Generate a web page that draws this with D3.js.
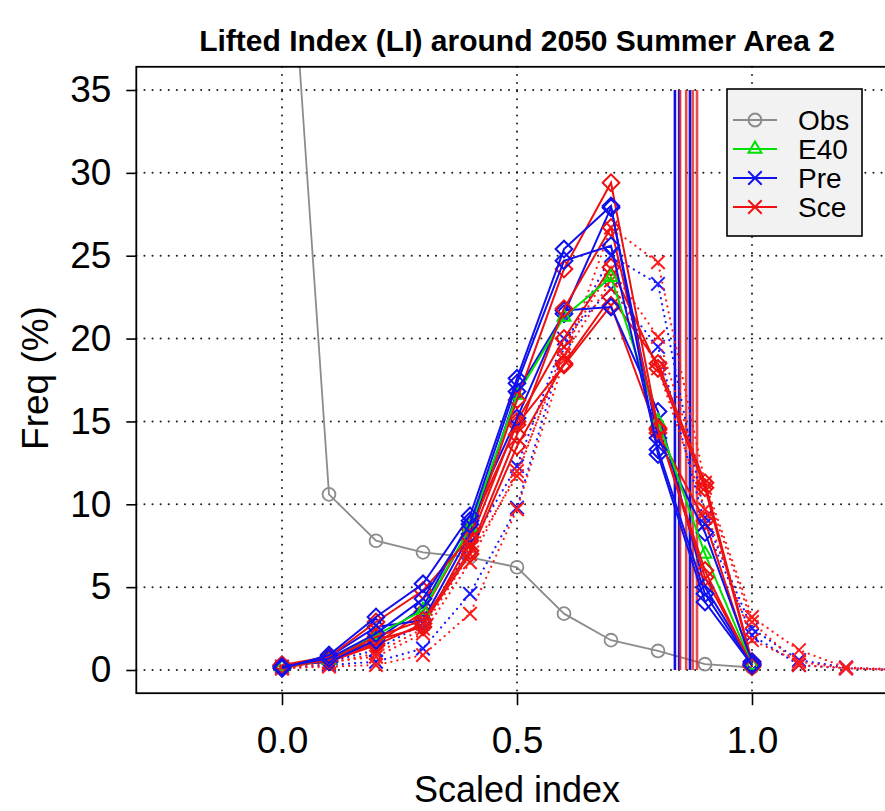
<!DOCTYPE html>
<html>
<head>
<meta charset="utf-8">
<script src="https://cdn.jsdelivr.net/npm/d3@7"></script>
<style>
  body { margin: 0; background: #fff; }
  text { font-family: "Liberation Sans", Arial, sans-serif; }
</style>
</head>
<body>
<svg id="chart" width="885" height="811"></svg>
<script>
// bins of the scaled index
const bins = [0, 0.1, 0.2, 0.3, 0.4, 0.5, 0.6, 0.7, 0.8, 0.9, 1.0];
const binsLong = [0, 0.1, 0.2, 0.3, 0.4, 0.5, 0.6, 0.7, 0.8, 0.9, 1.0, 1.1, 1.2, 1.3];

// observations
const obs = [52, 10.6, 7.8, 7.1, 6.8, 6.2, 3.4, 1.8, 1.15, 0.35, 0.15];

// E40 reanalysis
const e40 = [0.2, 0.6, 2.1, 3.6, 8.6, 16.6, 21.3, 23.7, 15.0, 7.0, 0.3];

// present members (solid, diamonds)
const pre1 = [0.1, 0.9, 3.2, 5.2, 9.3, 17.6, 25.4, 28.0, 13.0, 4.1, 0.3];
const pre2 = [0.2, 0.7, 2.2, 4.3, 8.8, 17.3, 24.7, 25.6, 13.3, 4.6, 0.3];
const pre3 = [0.3, 0.5, 1.8, 3.8, 9.0, 15.2, 21.7, 21.9, 15.6, 5.0, 0.4];
const pre4 = [0.2, 0.8, 2.6, 3.0, 8.2, 16.8, 21.5, 27.9, 14.0, 8.3, 0.5];

// scenario members (solid, diamonds)
const sce1 = [0.3, 0.8, 2.9, 4.8, 8.0, 16.3, 24.2, 29.4, 14.6, 5.6, 0.3];
const sce2 = [0.2, 0.6, 2.0, 3.0, 7.2, 14.2, 21.8, 26.7, 14.5, 6.0, 0.2];
const sce3 = [0.3, 0.5, 1.5, 2.8, 7.0, 13.5, 18.5, 22.5, 18.5, 11.3, 0.5];
const sce4 = [0.2, 0.7, 1.8, 2.6, 7.8, 15.0, 20.0, 24.3, 18.2, 11.0, 0.4];
const sce5 = [0.1, 0.6, 1.6, 3.5, 8.5, 14.8, 18.4, 22.0, 14.3, 9.0, 0.3];

// shifted members (dotted, crosses)
const preDot1 = [0.1, 0.3, 0.5, 1.3, 4.6, 9.8, 19.5, 25.0, 23.3, 9.2, 2.5, 0.6, 0.15, 0.02];
const preDot2 = [0.2, 0.5, 1.2, 2.8, 7.5, 12.3, 20.0, 23.0, 19.5, 8.8, 2.1, 0.3, 0.1, 0.02];
const sceDot1 = [0.1, 0.2, 0.3, 0.9, 3.4, 9.7, 18.7, 26.7, 24.6, 11.3, 3.2, 1.2, 0.15, 0.05];
const sceDot2 = [0.1, 0.4, 1.0, 2.5, 7.0, 11.7, 19.5, 24.2, 20.1, 11.0, 2.9, 0.3, 0.1, 0.02];
const sceDot3 = [0.2, 0.5, 0.8, 2.2, 6.5, 12.0, 19.0, 23.5, 18.2, 9.7, 1.8, 0.5, 0.1, 0.02];

// mean positions (vertical lines)
const meanPre = [0.836, 0.845, 0.868];
const meanSce = [0.847, 0.860, 0.874, 0.883];

const yTicks = [0, 5, 10, 15, 20, 25, 30, 35];
const xTicks = [0.0, 0.5, 1.0];

const svg = d3.select("#chart");

const x = d3.scaleLinear().domain([-0.31, 1.31]).range([136.3, 897.7]);
const y = d3.scaleLinear().domain([-1.4, 36.4]).range([693.2, 66.8]);

const boxL = x(-0.31), boxR = x(1.31), boxT = y(36.4), boxB = y(-1.4);

svg.append("defs").append("clipPath").attr("id", "plotclip")
  .append("rect").attr("x", boxL).attr("y", boxT)
  .attr("width", boxR - boxL).attr("height", boxB - boxT);

// grid
const grid = svg.append("g").attr("stroke", "#222").attr("stroke-width", 2)
  .attr("stroke-dasharray", "0.1 8").attr("stroke-linecap", "round");
grid.selectAll("line.h").data(yTicks).join("line")
  .attr("x1", boxL).attr("x2", boxR).attr("y1", d => y(d)).attr("y2", d => y(d));
grid.selectAll("line.v").data(xTicks).join("line")
  .attr("y1", boxT).attr("y2", boxB).attr("x1", d => x(d)).attr("x2", d => x(d));

const plot = svg.append("g").attr("clip-path", "url(#plotclip)");

const line = d3.line().x(d => x(d[0])).y(d => y(d[1]));

const diamond = d3.symbol(d3.symbolSquare, 140);
const cross = d3.symbol(d3.symbolTimes, 120);
const tri = d3.symbol(d3.symbolTriangle2, 120);
const circ = d3.symbol(d3.symbolCircle, 130);

function series(vals, xs, color, opts) {
  const pts = vals.map((v, i) => [xs[i], v]);
  const g = plot.append("g");
  g.append("path").attr("d", line(pts)).attr("fill", "none")
    .attr("stroke", color).attr("stroke-width", opts.width || 2)
    .attr("stroke-dasharray", opts.dotted ? "0.1 6" : null)
    .attr("stroke-linecap", opts.dotted ? "round" : "butt");
  g.selectAll("path.m").data(pts).join("path")
    .attr("d", opts.marker)
    .attr("transform", d => `translate(${x(d[0])},${y(d[1])})` + (opts.rotate ? " rotate(45)" : ""))
    .attr("fill", "none").attr("stroke", color).attr("stroke-width", opts.mw || 2);
}

// observations
series(obs, bins, "#8c8c8c", { marker: circ, width: 1.8, mw: 1.8 });

// vertical lines for the means
plot.selectAll("line.mp").data(meanPre).join("line")
  .attr("x1", d => x(d)).attr("x2", d => x(d)).attr("y1", y(0)).attr("y2", y(35))
  .attr("stroke", "#1010e0").attr("stroke-width", 2.6);
plot.selectAll("line.ms").data(meanSce).join("line")
  .attr("x1", d => x(d)).attr("x2", d => x(d)).attr("y1", y(0)).attr("y2", y(35))
  .attr("stroke", "#e02020").attr("stroke-width", 2.6).attr("stroke-opacity", 0.8);

// dotted shifted members
[preDot1, preDot2].forEach(s => series(s, binsLong, "#1a1aff", { marker: cross, dotted: true, width: 2.2 }));
[sceDot1, sceDot2, sceDot3].forEach(s => series(s, binsLong, "#ff1a1a", { marker: cross, dotted: true, width: 2.2 }));

// solid members
[sce3, sce4, sce5].forEach(s => series(s, bins, "#ee1111", { marker: diamond, rotate: true }));
[pre3, pre4].forEach(s => series(s, bins, "#1111ee", { marker: diamond, rotate: true }));
series(e40, bins, "#00e000", { marker: tri });
[sce1, sce2].forEach(s => series(s, bins, "#ee1111", { marker: diamond, rotate: true }));
[pre1, pre2].forEach(s => series(s, bins, "#1111ee", { marker: diamond, rotate: true }));

// axes
const yAxis = svg.append("g").attr("transform", `translate(${boxL},0)`)
  .call(d3.axisLeft(y).tickValues(yTicks).tickSize(10).tickPadding(15));
const xAxis = svg.append("g").attr("transform", `translate(0,${boxB})`)
  .call(d3.axisBottom(x).tickValues(xTicks).tickSize(12).tickPadding(22).tickFormat(d3.format(".1f")));
[yAxis, xAxis].forEach(a => {
  a.select(".domain").remove();
  a.selectAll("line").attr("stroke", "#000").attr("stroke-width", 1.6);
  a.selectAll("text").attr("font-size", 37).attr("fill", "#000")
    .attr("font-family", "Liberation Sans, Arial, sans-serif");
});

// box
svg.append("rect").attr("x", boxL).attr("y", boxT)
  .attr("width", boxR - boxL).attr("height", boxB - boxT)
  .attr("fill", "none").attr("stroke", "#000").attr("stroke-width", 1.8);

// titles
svg.append("text").attr("x", 517).attr("y", 51).attr("text-anchor", "middle")
  .attr("font-size", 30).attr("font-weight", "bold")
  .text("Lifted Index (LI) around 2050 Summer Area 2");
svg.append("text").attr("x", 517).attr("y", 802).attr("text-anchor", "middle")
  .attr("font-size", 36).text("Scaled index");
svg.append("text").attr("transform", "translate(48,378) rotate(-90)")
  .attr("text-anchor", "middle").attr("font-size", 37).text("Freq (%)");

// legend
const legNames = ["Obs", "E40", "Pre", "Sce"];
const legColors = ["#8c8c8c", "#00e000", "#1111ee", "#ee1111"];
const legMarks = [circ, tri, cross, cross];
const leg = svg.append("g");
leg.append("rect").attr("x", 727).attr("y", 89).attr("width", 135).attr("height", 147)
  .attr("fill", "#f2f2f2").attr("stroke", "#000").attr("stroke-width", 1.6);
const rows = leg.selectAll("g.row").data(legNames).join("g")
  .attr("transform", (d, i) => `translate(0,${120 + i * 29})`);
rows.append("line").attr("x1", 733).attr("x2", 777)
  .attr("stroke", (d, i) => legColors[i]).attr("stroke-width", 2);
rows.append("path").attr("d", (d, i) => legMarks[i]()).attr("transform", "translate(755,0)")
  .attr("fill", "none").attr("stroke", (d, i) => legColors[i]).attr("stroke-width", 2);
rows.append("text").attr("x", 798).attr("y", 10).attr("font-size", 28).text(d => d);
</script>
</body>
</html>
